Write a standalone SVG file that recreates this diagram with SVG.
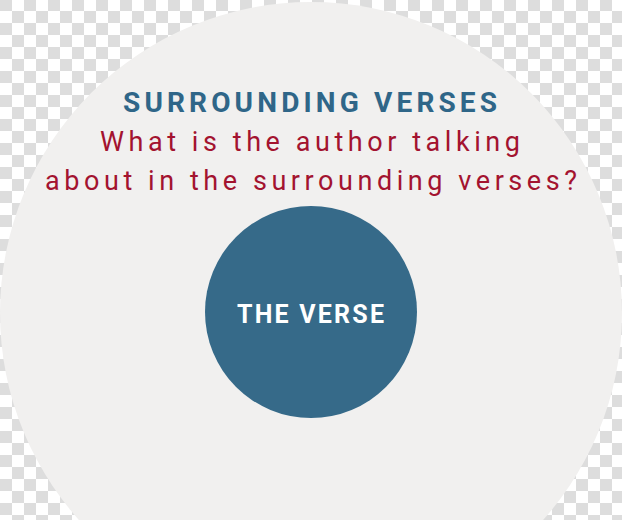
<svg xmlns="http://www.w3.org/2000/svg" width="622" height="520" viewBox="0 0 622 520">
<defs>
<pattern id="checker" x="0" y="-1" width="24" height="24" patternUnits="userSpaceOnUse">
<rect width="24" height="24" fill="#ffffff"/>
<rect x="0" y="0" width="12" height="12" fill="#dddddd"/>
<rect x="12" y="12" width="12" height="12" fill="#dddddd"/>
</pattern>
<style>
.title{font-family:Roboto,"Liberation Sans",sans-serif;font-weight:700;font-size:28px;fill:#2f6688;}
.q{font-family:Roboto,"Liberation Sans",sans-serif;font-weight:400;font-size:27px;fill:#a3132f;}
.inner{font-family:Roboto,"Liberation Sans",sans-serif;font-weight:700;font-size:25px;fill:#ffffff;}
</style>
</defs>
<rect width="622" height="520" fill="url(#checker)"/>
<g id="surrounding-verses">
<circle cx="311" cy="313" r="311" fill="#f1f0ef"/>
<text class="title" x="310" y="112" text-anchor="middle" textLength="374" lengthAdjust="spacing">SURROUNDING VERSES</text>
<text class="q" x="310" y="151" text-anchor="middle" textLength="420" lengthAdjust="spacing">What is the author talking</text>
<text class="q" x="311" y="190" text-anchor="middle" textLength="532" lengthAdjust="spacing">about in the surrounding verses?</text>
</g>
<g id="the-verse">
<circle cx="311" cy="312" r="106" fill="#366a89"/>
<text class="inner" x="310.5" y="323" text-anchor="middle" textLength="147" lengthAdjust="spacing">THE VERSE</text>
</g>
<g id="connectors"/>
</svg>
